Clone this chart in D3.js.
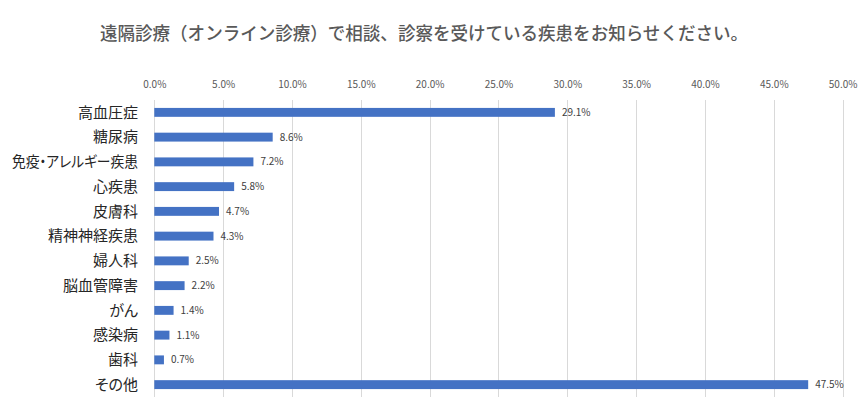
<!DOCTYPE html>
<html><head><meta charset="utf-8">
<script src="https://cdn.jsdelivr.net/npm/d3@7"></script>
<style>body{margin:0;background:#fff;}svg{display:block;} .lbl{font-feature-settings:"palt";}</style>
</head><body>
<svg id="c" width="865" height="413"></svg>
<script>
const categories = ["高血圧症","糖尿病","免疫・アレルギー疾患","心疾患","皮膚科","精神神経疾患","婦人科","脳血管障害","がん","感染病","歯科","その他"];
const values = [29.1, 8.6, 7.2, 5.8, 4.7, 4.3, 2.5, 2.2, 1.4, 1.1, 0.7, 47.5];
const tickValues = [0,5,10,15,20,25,30,35,40,45,50];
const title = "遠隔診療（オンライン診療）で相談、診察を受けている疾患をお知らせください。";

const svg = d3.select("#c");
const font = "'Noto Sans CJK JP','Noto Sans',sans-serif";
const x = d3.scaleLinear().domain([0,50]).range([154.3, 842.6]);
const y = d3.scaleBand().domain(categories).range([100, 397]).paddingInner(0.64).paddingOuter(0.32);

const t = svg.append("text").attr("x", 424).attr("y", 40).attr("text-anchor","middle")
  .attr("font-family", font).attr("font-size", 18).attr("font-weight", 500).attr("fill", "#595959").text(title);
const tw = t.node().getComputedTextLength();
if (tw > 648) t.attr("textLength", 648).attr("lengthAdjust", "spacingAndGlyphs");

// gridlines
svg.append("g").selectAll("line").data(tickValues).join("line")
  .attr("x1", d=>Math.round(x(d))+0.5).attr("x2", d=>Math.round(x(d))+0.5)
  .attr("y1", 100).attr("y2", 397).attr("stroke", "#d9d9d9").attr("stroke-width", 1);

// top axis
const ax = svg.append("g").attr("transform","translate(0,91)")
  .call(d3.axisTop(x).tickValues(tickValues).tickFormat(d=>d.toFixed(1)+"%").tickSize(0));
ax.select(".domain").remove();
ax.selectAll("text").attr("font-family", font).attr("font-size", 10).attr("fill","#595959");

// bars
svg.append("g").selectAll("rect").data(values).join("rect")
  .attr("x", x(0)).attr("y", (d,i)=>y(categories[i]))
  .attr("width", d=>x(d)-x(0)).attr("height", y.bandwidth()).attr("fill", "#4472C4");

// value labels
svg.append("g").selectAll("text").data(values).join("text")
  .attr("x", d=>x(d)+7).attr("y", (d,i)=>y(categories[i])+y.bandwidth()/2)
  .attr("dy","0.35em").attr("font-family", font).attr("font-size", 10).attr("fill","#404040")
  .text(d=>d.toFixed(1)+"%");

// category labels
svg.append("g").selectAll("text").data(categories).join("text")
  .attr("class","lbl")
  .attr("x", 138).attr("y", d=>y(d)+y.bandwidth()/2).attr("dy","0.35em")
  .attr("text-anchor","end").attr("font-family", font).attr("font-size", 15).attr("fill","#262626")
  .text(d=>d)
  .each(function(){ if (this.getComputedTextLength() > 126) d3.select(this).attr("textLength", 126).attr("lengthAdjust","spacingAndGlyphs"); });
</script>
</body></html>
